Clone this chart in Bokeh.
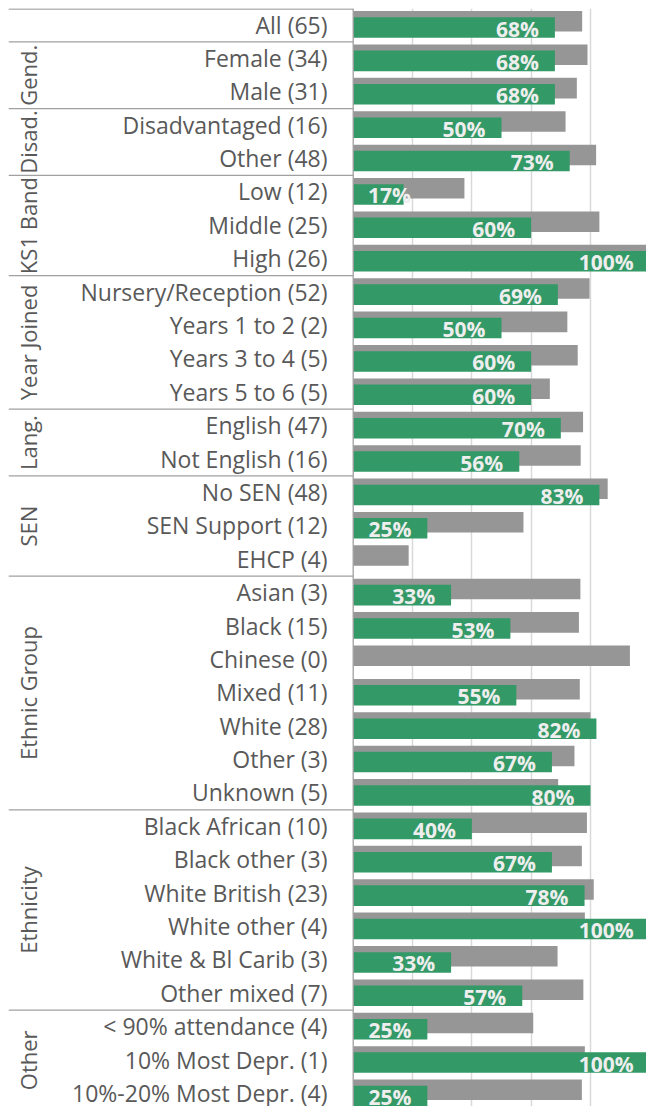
import math
from bokeh.plotting import figure
from bokeh.models import Range1d, ColumnDataSource, FixedTicker, Span
from bokeh.transform import dodge
from bokeh.core.properties import value
from bokeh.embed import file_html
from bokeh.resources import INLINE

# ---------------- data ----------------
categories = [
    "All (65)",
    "Female (34)", "Male (31)",
    "Disadvantaged (16)", "Other (48)",
    "Low (12)", "Middle (25)", "High (26)",
    "Nursery/Reception (52)", "Years 1 to 2 (2)", "Years 3 to 4 (5)", "Years 5 to 6 (5)",
    "English (47)", "Not English (16)",
    "No SEN (48)", "SEN Support (12)", "EHCP (4)",
    "Asian (3)", "Black (15)", "Chinese (0)", "Mixed (11)", "White (28)", "Other (3)", "Unknown (5)",
    "Black African (10)", "Black other (3)", "White British (23)", "White other (4)",
    "White & Bl Carib (3)", "Other mixed (7)",
    "< 90% attendance (4)", "10% Most Depr. (1)", "10%-20% Most Depr. (4)",
]
group_names = ["", "Gend.", "Disad.", "KS1 Band", "Year Joined", "Lang.", "SEN",
               "Ethnic Group", "Ethnicity", "Other"]
group_sizes = [1, 2, 2, 3, 4, 2, 3, 7, 6, 3]

# school percentage (green) - None where there is no bar
school_pct = [68, 68, 68, 50, 73, 17, 60, 100, 69, 50, 60, 60, 70, 56, 83, 25, None,
              33, 53, None, 55, 82, 67, 80, 40, 67, 78, 100, 33, 57, 25, 100, 25]
# comparison percentage (grey)
national_pct = [77.2, 79.0, 75.4, 71.6, 81.9, 37.5, 83.0, 100, 79.7, 72.2, 75.7, 66.3,
                77.5, 76.7, 85.8, 57.4, 18.7, 76.6, 76.1, 93.3, 76.4, 80.0, 74.6, 69.1,
                78.8, 77.1, 81.1, 78.1, 68.9, 77.6, 60.7, 78.1, 77.1]
grid_ticks = [20, 40, 60, 80, 100]

# ---------------- layout constants ----------------
MARGIN = 8
W, H = 646, 1106
FW, FH = W - MARGIN, H - MARGIN   # frame size
PX = 2.966            # pixels per percentage point
ROW = 33.39           # pixels per row
AXIS_PX = 344.7       # frame pixels left of the value axis
x_left = -AXIS_PX / PX
x_right = (FW - AXIS_PX) / PX
y_bottom = -0.5 + FH / ROW

GREEN = "#339966"
GREY = "#969696"
TEXT = "#595959"
LINE = "#a0a0a0"
FONT = value("Open Sans")

rows = list(range(len(categories)))

p = figure(width=W, height=H, x_range=Range1d(x_left, x_right),
           y_range=Range1d(y_bottom, -0.5), output_backend="svg",
           toolbar_location=None, min_border=0, min_border_left=MARGIN,
           min_border_top=MARGIN, outline_line_color=None,
           background_fill_color="white", border_fill_color="white")
p.xaxis.visible = False
p.yaxis.visible = False
p.ygrid.visible = False
p.xaxis.ticker = FixedTicker(ticks=grid_ticks)
p.xgrid.ticker = FixedTicker(ticks=grid_ticks)
p.xgrid.grid_line_color = "#d9d9d9"
p.xgrid.grid_line_width = 1.5

# value axis line
p.add_layout(Span(location=0, dimension="height", line_color=LINE, line_width=1.3))

# grey comparison bars
src_all = ColumnDataSource(dict(row=rows, nat=national_pct, cat=categories))
p.hbar(y=dodge("row", -0.115), left=0, right="nat", height=0.615, source=src_all,
       fill_color=GREY, line_color=None)

# green school bars
g_rows = [r for r, v in zip(rows, school_pct) if v is not None]
g_vals = [v for v in school_pct if v is not None]
g_lab = [f"{v:.0f}%" for v in g_vals]
g_lx = [max(v - 5.4, 19.5) for v in g_vals]
src_g = ColumnDataSource(dict(row=g_rows, val=g_vals, lab=g_lab, lx=g_lx))
p.hbar(y=dodge("row", 0.069), left=0, right="val", height=0.615, source=src_g,
       fill_color=GREEN, line_color=None)
p.text(x="lx", y=dodge("row", 0.1), text="lab", source=src_g,
       text_align="right", text_baseline="middle", text_font=FONT,
       text_font_size="21px", text_font_style="bold", text_color="#eeeeee")

# category labels
p.text(x=-25.7 / PX, y=dodge("row", -0.02), text="cat", source=src_all,
       text_align="right", text_baseline="middle", text_font=FONT,
       text_font_size="23px", text_color=TEXT)

# group separators and group labels
bounds = [-0.5]
for s in group_sizes:
    bounds.append(bounds[-1] + s)
sep_y = [max(b, -0.485) for b in bounds[:-1]] + [bounds[-1]]
p.segment(x0=x_left, x1=0, y0=sep_y, y1=sep_y, line_color=LINE, line_width=1.3)

gc = [(bounds[i] + bounds[i + 1]) / 2 for i in range(len(group_sizes))]
gsrc = ColumnDataSource(dict(y=gc, name=group_names))
p.text(x=(27.4 - MARGIN - AXIS_PX) / PX, y="y", text="name", source=gsrc, angle=math.pi / 2,
       text_align="center", text_baseline="middle", text_font=FONT,
       text_font_size="22px", text_color=TEXT)

open("out.html", "w").write(file_html(p, INLINE))
